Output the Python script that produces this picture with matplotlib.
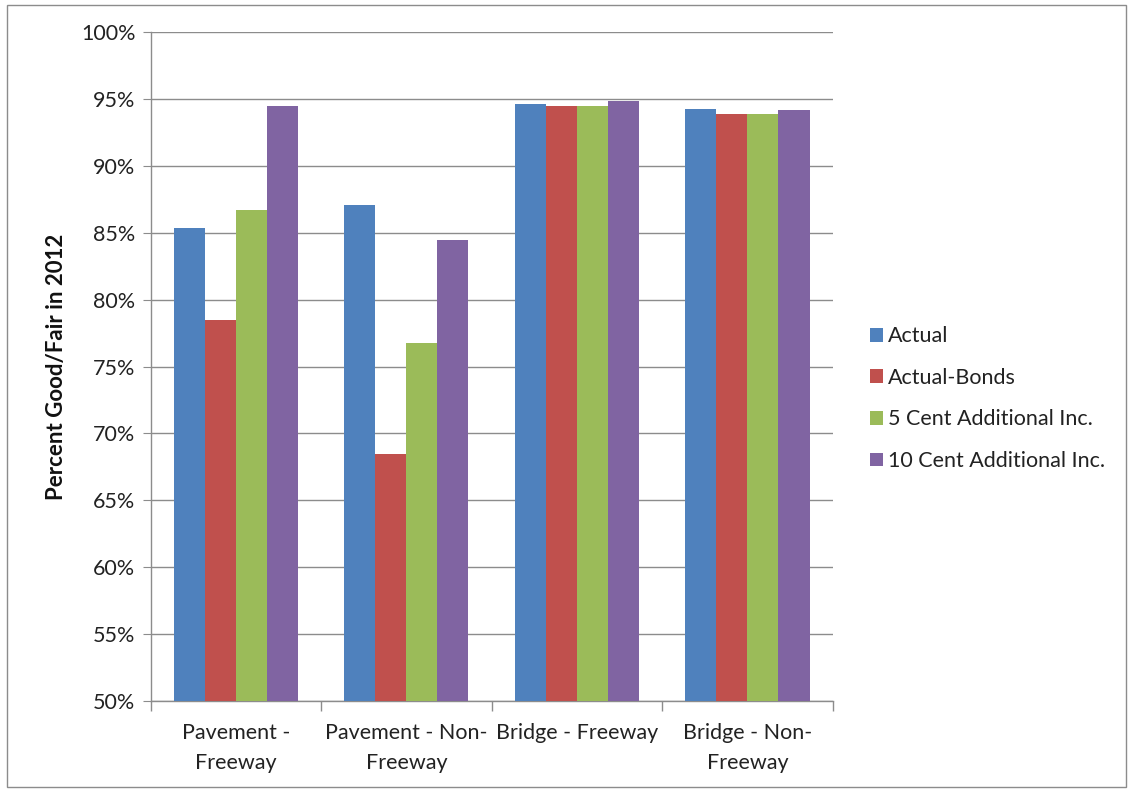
import numpy as np
import matplotlib
matplotlib.use('Agg')
import matplotlib.pyplot as plt
from matplotlib.patches import Rectangle
from matplotlib.ticker import FuncFormatter

plt.rcParams['font.family'] = ['Lato', 'DejaVu Sans']

# Data
categories = ['Pavement -\nFreeway', 'Pavement - Non-\nFreeway', 'Bridge - Freeway', 'Bridge - Non-\nFreeway']
series_names = ['Actual', 'Actual-Bonds', '5 Cent Additional Inc.', '10 Cent Additional Inc.']
actual = [85.35, 87.1, 94.65, 94.3]
actual_bonds = [78.5, 68.45, 94.5, 93.87]
cent5 = [86.75, 76.75, 94.5, 93.87]
cent10 = [94.5, 84.5, 94.85, 94.2]
colors = ['#4F81BD', '#C0504D', '#9BBB59', '#8064A2']

fig = plt.figure(figsize=(11.33, 7.9), dpi=100)
ax = fig.add_axes([0.133, 0.113, 0.602, 0.846])

# outer chart frame
fig.patches.append(Rectangle((0.006, 0.004), 0.988, 0.99, transform=fig.transFigure,
                             fill=False, edgecolor='#8c8c8c', linewidth=1.0))

x = np.arange(len(categories))
width = 1 / 5.5
all_series = [actual, actual_bonds, cent5, cent10]
for i, (vals, name) in enumerate(zip(all_series, series_names)):
    ax.bar(x + (i - 1.5) * width, vals, width, color=colors[i], label=name, zorder=3)

ax.set_ylim(50, 100)
ax.set_xlim(-0.5, 3.5)
ax.set_yticks(np.arange(50, 101, 5))
ax.yaxis.set_major_formatter(FuncFormatter(lambda v, p: f'{int(v)}%'))
ax.grid(axis='y', color='#8c8c8c', linewidth=1.0, zorder=0)

# category boundaries as major ticks, labels on minor ticks
ax.set_xticks(np.arange(-0.5, 3.6, 1))
ax.set_xticklabels([])
ax.set_xticks(x, minor=True)
ax.set_xticklabels(categories, minor=True, fontsize=15.5, color='#222222', linespacing=1.65)
ax.tick_params(axis='x', which='minor', length=0, pad=16)
ax.tick_params(axis='x', which='major', length=7, color='#8c8c8c', width=1)
ax.tick_params(axis='y', length=6, color='#8c8c8c', labelsize=15.5, labelcolor='#222222', pad=5)

for s in ['top', 'right']:
    ax.spines[s].set_visible(False)
for s in ['left', 'bottom']:
    ax.spines[s].set_color('#8c8c8c')
    ax.spines[s].set_linewidth(1.0)

ax.set_ylabel('Percent Good/Fair in 2012', fontsize=16, fontweight='bold', color='#111111', labelpad=10)

leg = ax.legend(loc='center left', bbox_to_anchor=(1.026, 0.452), frameon=False, fontsize=15.5,
                handlelength=0.6, handleheight=0.6, handletextpad=0.25, labelspacing=1.0)
for t in leg.get_texts():
    t.set_color('#222222')

fig.savefig('out.png', dpi=100)
